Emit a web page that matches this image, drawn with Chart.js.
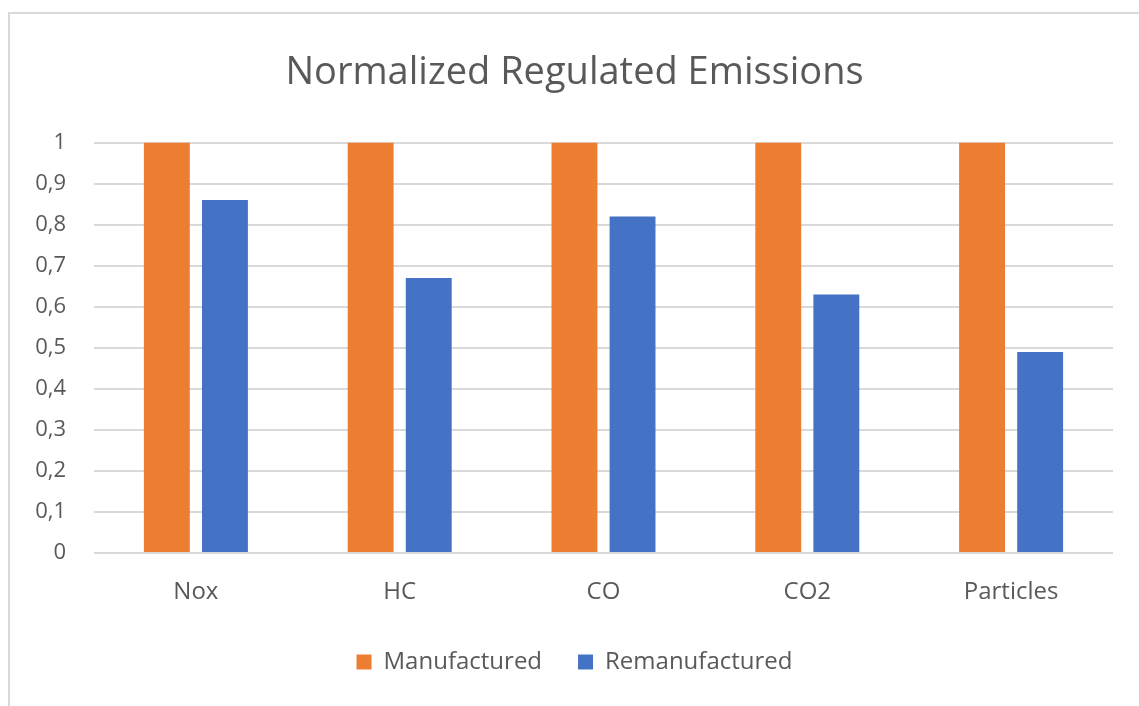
<!DOCTYPE html>
<html>
<head>
<meta charset="utf-8">
<script src="https://cdn.jsdelivr.net/npm/chart.js@4"></script>
<style>
  html, body { margin: 0; padding: 0; background: #fff; }
  body { width: 1139px; height: 706px; position: relative; overflow: hidden; }
  #frame { position: absolute; left: 8px; top: 12px; width: 1200px; height: 800px; border: 2px solid #d9d9d9; box-sizing: border-box; }
  #wrap { position: absolute; left: 0; top: 0; width: 1139px; height: 706px; }
</style>
</head>
<body>
<div id="frame"></div>
<div id="wrap"><canvas id="chart"></canvas></div>
<script>
const categories = ["Nox", "HC", "CO", "CO2", "Particles"];
const manufactured = [1, 1, 1, 1, 1];
const remanufactured = [0.86, 0.67, 0.82, 0.63, 0.49];

const grey = "#595959";
const fontFamily = "'Open Sans', 'Noto Sans', sans-serif";

const ctx = document.getElementById("chart").getContext("2d");
const myChart = new Chart(ctx, {
  type: "bar",
  data: {
    labels: categories,
    datasets: [
      {
        label: "Manufactured",
        data: manufactured,
        backgroundColor: "#ED7D31",
        barPercentage: 0.79,
        categoryPercentage: 0.57
      },
      {
        label: "Remanufactured",
        data: remanufactured,
        backgroundColor: "#4472C4",
        barPercentage: 0.79,
        categoryPercentage: 0.57
      }
    ]
  },
  options: {
    responsive: true,
    maintainAspectRatio: false,
    animation: false,
    layout: { padding: { left: 36, right: 26, top: 0, bottom: 22 } },
    plugins: {
      title: {
        display: true,
        text: "Normalized Regulated Emissions",
        color: grey,
        font: { family: fontFamily, size: 38, weight: "normal" },
        padding: { top: 50, bottom: 47 }
      },
      legend: {
        position: "bottom",
        labels: {
          color: grey,
          font: { family: fontFamily, size: 24 },
          boxWidth: 15,
          boxHeight: 15,
          padding: 36
        }
      },
      tooltip: { enabled: false }
    },
    scales: {
      x: {
        grid: { display: false, drawTicks: false },
        border: { display: false },
        ticks: { color: grey, font: { family: fontFamily, size: 24 }, padding: 25 },
        afterFit: function(scale) { scale.height = 61; }
      },
      y: {
        min: 0,
        max: 1,
        ticks: {
          stepSize: 0.1,
          color: grey,
          font: { family: fontFamily, size: 22 },
          padding: 28,
          callback: function(v) { return (Math.round(v * 10) / 10).toString().replace(".", ","); }
        },
        grid: { color: "#d9d9d9", lineWidth: 2, drawTicks: false },
        border: { display: false },
        afterFit: function(scale) { scale.width = 58; }
      }
    }
  }
});
</script>
</body>
</html>
